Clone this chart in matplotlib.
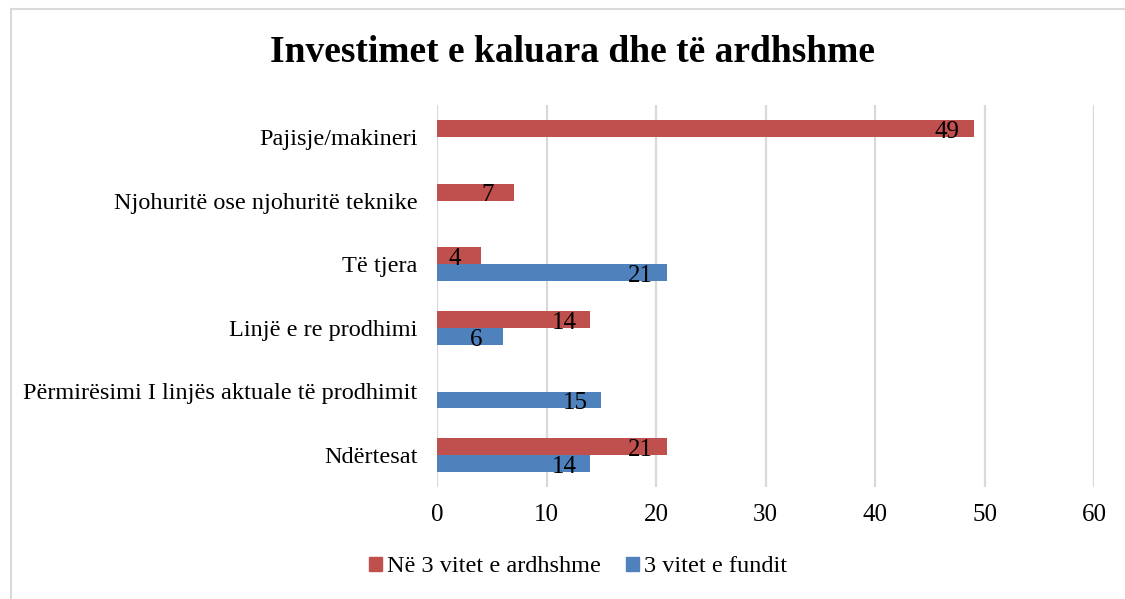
import matplotlib
matplotlib.use("Agg")
import matplotlib.pyplot as plt
from matplotlib.lines import Line2D
from matplotlib.patches import Patch
import numpy as np

categories = ["Ndërtesat", "Përmirësimi I linjës aktuale të prodhimit",
              "Linjë e re prodhimi", "Të tjera",
              "Njohuritë ose njohuritë teknike", "Pajisje/makineri"]
next3 = [21, 0, 14, 4, 7, 49]      # Në 3 vitet e ardhshme
last3 = [14, 15, 6, 21, 0, 0]      # 3 vitet e fundit
series_names = ["Në 3 vitet e ardhshme", "3 vitet e fundit"]
xticks = [0, 10, 20, 30, 40, 50, 60]

RED = "#C0504D"
BLUE = "#4F81BD"
GRID = "#D9D9D9"

plt.rcParams['font.family'] = ['Liberation Serif', 'DejaVu Serif']

W, H = 1125, 599
fig = plt.figure(figsize=(W / 100, H / 100), dpi=100)
ax = fig.add_axes([437 / W, 1 - 487 / H, (1094 - 437) / W, (487 - 105) / H])

y = np.arange(len(categories))
h = 0.267
ax.barh(y + h / 2, next3, height=h, color=RED, zorder=3)
ax.barh(y - h / 2, last3, height=h, color=BLUE, zorder=3)

for vals, off in ((next3, h / 2), (last3, -h / 2)):
    for yi, v in zip(y, vals):
        if v:
            ax.annotate(str(v), (v, yi + off), xytext=(-19, -2.5),
                        textcoords="offset points", ha="center", va="center",
                        fontsize=18, color="black", zorder=4)

ax.set_xlim(0, 60)
ax.set_ylim(-0.5, len(categories) - 0.5)
ax.set_xticks(xticks)
ax.set_xticklabels([str(t) for t in xticks], fontsize=18)
ax.set_yticks(y)
ax.set_yticklabels(categories, fontsize=17.5)
ax.tick_params(axis="both", length=0)
ax.tick_params(axis="x", pad=12)
ax.tick_params(axis="y", pad=14)
for s in ax.spines.values():
    s.set_visible(False)
ax.xaxis.grid(True, color=GRID, linewidth=1.6, zorder=0)
ax.set_axisbelow(True)

fig.text(573 / W, 1 - 52 / H, "Investimet e kaluara dhe të ardhshme",
         ha="center", va="center", fontsize=27, fontweight="bold")

handles = [Patch(color=RED), Patch(color=BLUE)]
fig.legend(handles, series_names, loc="center", bbox_to_anchor=(578 / W, 1 - 567 / H),
           ncol=2, frameon=False, fontsize=17.5, handlelength=0.55, handleheight=0.55,
           handletextpad=0.2, columnspacing=1.0)

fig.add_artist(Line2D([11 / W, 1], [1 - 9 / H, 1 - 9 / H], color=GRID, lw=1.5))
fig.add_artist(Line2D([11 / W, 11 / W], [1 - 9 / H, 0], color=GRID, lw=1.5))

fig.savefig("out.png", dpi=100)
